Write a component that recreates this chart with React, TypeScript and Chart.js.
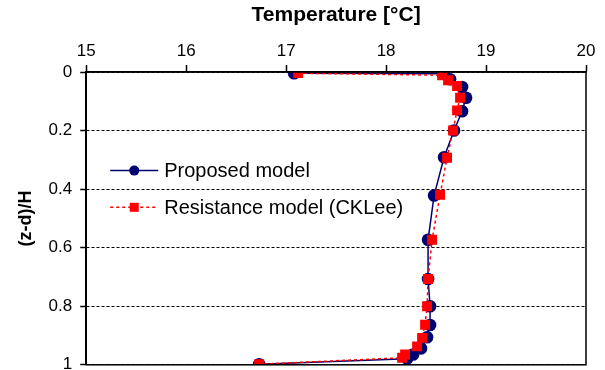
import React, { useEffect, useRef } from "react";
import { Chart, registerables } from "chart.js";

Chart.register(...registerables);

const proposedLabel = "Proposed model";
const resistanceLabel = "Resistance model (CKLee)";

const proposedZ = [0.004, 0.006, 0.025, 0.051, 0.088, 0.134, 0.2, 0.291, 0.422, 0.573, 0.707, 0.8, 0.864, 0.906, 0.944, 0.965, 0.979, 0.998];
const proposedT = [17.08, 18.57, 18.64, 18.76, 18.8, 18.76, 18.68, 18.58, 18.48, 18.42, 18.42, 18.44, 18.44, 18.41, 18.35, 18.27, 18.21, 16.73];

const resistanceZ = [0.004, 0.011, 0.028, 0.048, 0.088, 0.131, 0.2, 0.293, 0.419, 0.573, 0.707, 0.8, 0.863, 0.908, 0.937, 0.965, 0.976, 0.998];
const resistanceT = [17.12, 18.56, 18.62, 18.71, 18.74, 18.71, 18.67, 18.61, 18.54, 18.46, 18.42, 18.41, 18.39, 18.36, 18.31, 18.19, 18.16, 16.73];

const xMin = 15;
const xMax = 20;
const yMin = 0;
const yMax = 1;

const FONT = "'Liberation Sans', Arial, sans-serif";
const NAVY = "#000070";
const RED = "#ff0000";

const framePlugin = {
  id: "frame",
  afterDatasetsDraw(chart: any) {
    const { ctx, chartArea } = chart;
    ctx.save();
    ctx.strokeStyle = "#000";
    ctx.lineWidth = 1.5;
    ctx.setLineDash([]);
    ctx.strokeRect(chartArea.left, chartArea.top, chartArea.right - chartArea.left, chartArea.bottom - chartArea.top);
    ctx.restore();
  },
};

const legendPlugin = {
  id: "customLegend",
  afterDraw(chart: any) {
    const { ctx, chartArea } = chart;
    const x0 = chartArea.left + 24;
    const x1 = chartArea.left + 72;
    const xm = (x0 + x1) / 2;
    const rows = [
      { y: chartArea.top + 98.6, label: proposedLabel, color: NAVY, dash: [] as number[], style: "circle" },
      { y: chartArea.top + 135.3, label: resistanceLabel, color: RED, dash: [3, 3], style: "rect" },
    ];
    ctx.save();
    for (const r of rows) {
      ctx.strokeStyle = r.color;
      ctx.lineWidth = 1.5;
      ctx.setLineDash(r.dash);
      ctx.beginPath();
      ctx.moveTo(x0, r.y);
      ctx.lineTo(x1, r.y);
      ctx.stroke();
      ctx.setLineDash([]);
      ctx.fillStyle = r.color;
      if (r.style === "circle") {
        ctx.beginPath();
        ctx.arc(xm, r.y, 5, 0, Math.PI * 2);
        ctx.fill();
      } else {
        ctx.fillRect(xm - 4.5, r.y - 4.5, 9, 9);
      }
      ctx.fillStyle = "#000";
      ctx.font = `20px ${FONT}`;
      ctx.textBaseline = "middle";
      ctx.textAlign = "left";
      ctx.fillText(r.label, x1 + 6, r.y + 1);
    }
    ctx.restore();
  },
};

const fmtTick = (v: any) => String(Math.round(Number(v) * 10) / 10);

export default function App() {
  const ref = useRef<HTMLCanvasElement | null>(null);

  useEffect(() => {
    if (!ref.current) return;
    const chart = new Chart(ref.current, {
      type: "scatter",
      data: {
        datasets: [
          {
            label: proposedLabel,
            data: proposedT.map((t, i) => ({ x: t, y: proposedZ[i] })),
            showLine: true,
            borderColor: NAVY,
            backgroundColor: NAVY,
            borderWidth: 1.5,
            pointStyle: "circle",
            pointRadius: 6.3,
            pointBorderWidth: 0,
            order: 2,
          },
          {
            label: resistanceLabel,
            data: resistanceT.map((t, i) => ({ x: t, y: resistanceZ[i] })),
            showLine: true,
            borderColor: RED,
            backgroundColor: RED,
            borderWidth: 1.5,
            borderDash: [3, 3],
            pointStyle: "rect",
            pointRadius: 7,
            pointBorderWidth: 0,
            order: 1,
          },
        ],
      },
      options: {
        responsive: false,
        animation: false,
        layout: { padding: { left: 15, right: 19, top: 2.4, bottom: 0 } },
        plugins: {
          legend: { display: false },
          tooltip: { enabled: false },
        },
        scales: {
          x: {
            type: "linear",
            position: "top",
            min: xMin,
            max: xMax,
            ticks: {
              stepSize: 1,
              color: "#000",
              font: { family: FONT, size: 17 },
              padding: 3,
              callback: fmtTick,
            },
            grid: {
              display: true,
              drawOnChartArea: false,
              drawTicks: true,
              tickLength: 7,
              tickColor: "#000",
              tickWidth: 1.5,
              color: "#000",
            },
            border: { display: true, color: "#000", width: 1.5 },
            title: {
              display: true,
              text: "Temperature [°C]",
              color: "#000",
              font: { family: FONT, size: 21, weight: "bold" },
              padding: { top: 0, bottom: 11 },
            },
          },
          y: {
            type: "linear",
            reverse: true,
            min: yMin,
            max: yMax,
            ticks: {
              stepSize: 0.2,
              color: "#000",
              font: { family: FONT, size: 17 },
              padding: 8,
              callback: fmtTick,
            },
            grid: {
              display: true,
              drawOnChartArea: true,
              drawTicks: true,
              tickLength: 6,
              tickColor: "#000",
              tickWidth: 1.5,
              color: "#000",
              lineWidth: 1,
            },
            border: { display: true, color: "#000", width: 1.5, dash: [3, 2] },
            title: {
              display: true,
              text: "(z-d)/H",
              color: "#000",
              font: { family: FONT, size: 18, weight: "bold" },
              padding: { top: 0, bottom: 4 },
            },
          },
        },
      },
      plugins: [framePlugin, legendPlugin],
    } as any);
    return () => chart.destroy();
  }, []);

  return (
    <div style={{ position: "fixed", top: 0, left: 0, width: 605, height: 370, overflow: "hidden" }}>
      <canvas ref={ref} width={605} height={383} style={{ display: "block" }} />
    </div>
  );
}
